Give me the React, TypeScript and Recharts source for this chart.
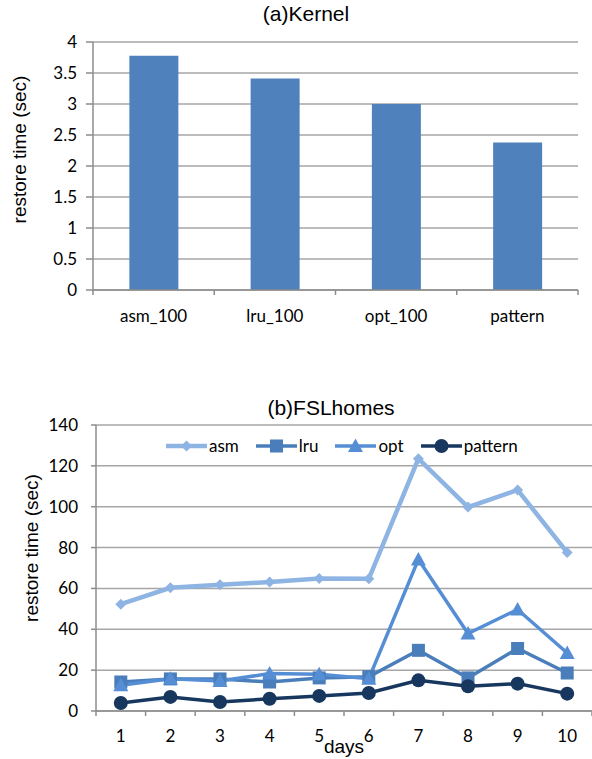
import React from "react";
import {
  BarChart,
  Bar,
  LineChart,
  Line,
  XAxis,
  YAxis,
  CartesianGrid,
} from "recharts";

// (a) Kernel
const kernelCategories = ["asm_100", "lru_100", "opt_100", "pattern"];
const kernelValues = [3.78, 3.41, 3.0, 2.38];
const kernelTicks = [0, 0.5, 1, 1.5, 2, 2.5, 3, 3.5, 4];

// (b) FSLhomes
const days = [1, 2, 3, 4, 5, 6, 7, 8, 9, 10];
const asmValues = [52.3, 60.3, 61.8, 63.1, 64.9, 64.7, 123.5, 99.8, 108.2, 77.6];
const lruValues = [14.2, 15.7, 15.7, 14.2, 16.2, 16.8, 29.7, 16.2, 30.6, 18.6];
const optValues = [12.6, 15.8, 14.7, 18.3, 18.0, 15.8, 74.2, 37.9, 49.7, 28.4];
const patternValues = [3.9, 6.9, 4.4, 6.0, 7.4, 8.8, 15.0, 12.1, 13.4, 8.5];
const fslTicks = [0, 20, 40, 60, 80, 100, 120, 140];

const kernelData = kernelCategories.map((name, i) => ({ name, value: kernelValues[i] }));
const fslData = days.map((day, i) => ({
  day,
  asm: asmValues[i],
  lru: lruValues[i],
  opt: optValues[i],
  pattern: patternValues[i],
}));

const AXIS = "#8c8c8c";
const GRID = "#a6a6a6";
const TICK_FONT = "Lato, 'Noto Sans', sans-serif";
const TITLE_FONT = "'Liberation Sans', Arial, sans-serif";

function Marker({ shape, cx, cy, color }: any) {
  if (shape === "diamond") {
    const s = 5.5;
    return <polygon points={`${cx},${cy - s} ${cx + s},${cy} ${cx},${cy + s} ${cx - s},${cy}`} fill={color} />;
  }
  if (shape === "square") {
    return <rect x={cx - 6.5} y={cy - 6.5} width={13} height={13} fill={color} />;
  }
  if (shape === "triangle") {
    return <polygon points={`${cx},${cy - 7.5} ${cx + 7.5},${cy + 6} ${cx - 7.5},${cy + 6}`} fill={color} />;
  }
  return <circle cx={cx} cy={cy} r={7} fill={color} />;
}

const series = [
  { key: "asm", color: "#8eb4e3", shape: "diamond", width: 4.5 },
  { key: "lru", color: "#4a7ebb", shape: "square", width: 3.5 },
  { key: "opt", color: "#558ed5", shape: "triangle", width: 3.5 },
  { key: "pattern", color: "#17375e", shape: "circle", width: 3.5 },
];

// Excel-style category ticks: marks between categories, label in the middle
function makeCategoryTick(tickSize: number, tickMargin: number, count: number) {
  return function CategoryTick(props: any) {
    const { x, y, payload, index } = props;
    const half = payload?.offset ?? 0;
    const axisY = y - tickSize - tickMargin;
    return (
      <g>
        <line x1={x - half} x2={x - half} y1={axisY} y2={axisY + tickSize} stroke={AXIS} strokeWidth={1.5} />
        {index === count - 1 && (
          <line x1={x + half} x2={x + half} y1={axisY} y2={axisY + tickSize} stroke={AXIS} strokeWidth={1.5} />
        )}
        <text x={x} y={y} dy="0.71em" textAnchor="middle" fill="#000" fontSize={17} fontFamily={TICK_FONT}>
          {payload.value}
        </text>
      </g>
    );
  };
}

function yLabel(dx: number, dy: number) {
  return (props: any) => {
    const vb = props.viewBox || { x: 0, y: 0, height: 0 };
    const cx = vb.x + dx;
    const cy = vb.y + vb.height / 2 + dy;
    return (
      <text
        x={cx}
        y={cy}
        transform={`rotate(-90 ${cx} ${cy})`}
        textAnchor="middle"
        dominantBaseline="central"
        fontSize={19}
        fontFamily={TITLE_FONT}
        fill="#000"
      >
        restore time (sec)
      </text>
    );
  };
}

function xLabel(baseline: number) {
  return (props: any) => {
    const vb = props.viewBox || { x: 0, y: 0, width: 0 };
    return (
      <text x={vb.x + vb.width / 2} y={vb.y + baseline} textAnchor="middle" fontSize={19} fontFamily={TITLE_FONT} fill="#000">
        days
      </text>
    );
  };
}

function FslLegend() {
  return (
    <div style={{ position: "absolute", left: 166, top: 435, display: "flex", alignItems: "center", fontFamily: TICK_FONT, fontSize: 17 }}>
      {series.map((s) => (
        <div key={s.key} style={{ display: "flex", alignItems: "center", marginRight: 17 }}>
          <svg width={41} height={18}>
            <line x1={0} x2={41} y1={9} y2={9} stroke={s.color} strokeWidth={s.width} />
            <Marker shape={s.shape} cx={20.5} cy={9} color={s.color} />
          </svg>
          <span style={{ marginLeft: 2 }}>{s.key}</span>
        </div>
      ))}
    </div>
  );
}

export default function App() {
  return (
    <div style={{ position: "fixed", left: 0, top: 0, width: 592, height: 759, background: "#fff", overflow: "hidden" }}>
      <div style={{ position: "absolute", left: 206, width: 200, top: 3, textAlign: "center", fontFamily: TITLE_FONT, fontSize: 21, lineHeight: "21px" }}>
        (a)Kernel
      </div>
      <div style={{ position: "absolute", left: 0, top: 0 }}>
        <BarChart width={592} height={340} data={kernelData} margin={{ top: 42, right: 14, bottom: 0, left: 0 }} barCategoryGap="30%">
          <CartesianGrid vertical={false} stroke={GRID} strokeWidth={1.5} />
          <XAxis
            dataKey="name"
            height={50}
            axisLine={{ stroke: AXIS, strokeWidth: 1.5 }}
            tickLine={false}
            tickSize={5}
            tickMargin={15}
            interval={0}
            tick={makeCategoryTick(5, 15, kernelCategories.length)}
          />
          <YAxis
            width={93}
            domain={[0, 4]}
            ticks={kernelTicks}
            interval={0}
            axisLine={{ stroke: AXIS, strokeWidth: 1.5 }}
            tickLine={{ stroke: AXIS, strokeWidth: 1.5 }}
            tickSize={7}
            tickMargin={9}
            tick={{ fill: "#000", fontSize: 17, fontFamily: TICK_FONT }}
            label={yLabel(19, -16.5)}
          />
          <Bar dataKey="value" fill="#4f81bd" isAnimationActive={false} />
        </BarChart>
      </div>

      <div style={{ position: "absolute", left: 231, width: 200, top: 397, textAlign: "center", fontFamily: TITLE_FONT, fontSize: 21, lineHeight: "21px" }}>
        (b)FSLhomes
      </div>
      <div style={{ position: "absolute", left: 0, top: 340 }}>
        <LineChart width={592} height={419} data={fslData} margin={{ top: 85, right: 0, bottom: 0, left: 0 }}>
          <CartesianGrid vertical={false} stroke={GRID} strokeWidth={1.5} />
          <XAxis
            dataKey="day"
            type="category"
            scale="band"
            height={48}
            axisLine={{ stroke: AXIS, strokeWidth: 1.5 }}
            tickLine={false}
            tickSize={5}
            tickMargin={14}
            interval={0}
            tick={makeCategoryTick(5, 14, days.length)}
            label={xLabel(42)}
          />
          <YAxis
            width={96}
            domain={[0, 140]}
            ticks={fslTicks}
            interval={0}
            axisLine={{ stroke: AXIS, strokeWidth: 1.5 }}
            tickLine={{ stroke: AXIS, strokeWidth: 1.5 }}
            tickSize={5}
            tickMargin={13}
            tick={{ fill: "#000", fontSize: 17, fontFamily: TICK_FONT }}
            label={yLabel(31, -20)}
          />
          {series.map((s) => (
            <Line
              key={s.key}
              dataKey={s.key}
              stroke={s.color}
              strokeWidth={s.width}
              isAnimationActive={false}
              dot={(p: any) => <Marker key={`${s.key}-${p.index}`} shape={s.shape} cx={p.cx} cy={p.cy} color={s.color} />}
              activeDot={false}
            />
          ))}
        </LineChart>
      </div>
      <FslLegend />
    </div>
  );
}
